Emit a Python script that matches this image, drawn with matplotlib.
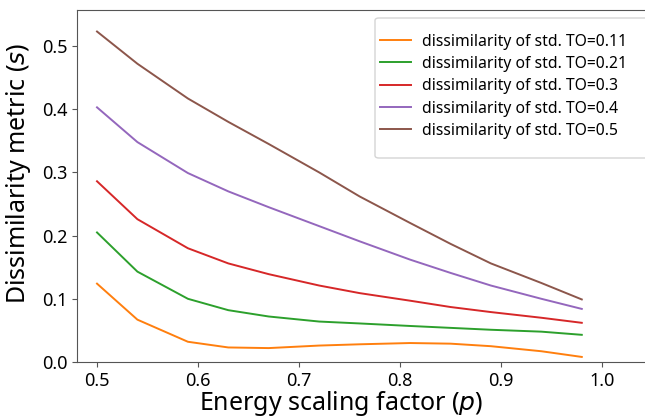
import matplotlib.pyplot as plt
from matplotlib.patches import FancyBboxPatch
import numpy as np

plt.rcParams['font.family'] = ['Noto Sans', 'DejaVu Sans']

# energy scaling factor samples
p = [0.5, 0.54, 0.59, 0.63, 0.67, 0.72, 0.76, 0.81, 0.85, 0.89, 0.94, 0.98]

# dissimilarity for each std. TO
d011 = [0.124, 0.067, 0.032, 0.023, 0.022, 0.026, 0.028, 0.030, 0.029, 0.025, 0.017, 0.008]
d021 = [0.205, 0.143, 0.100, 0.082, 0.072, 0.064, 0.061, 0.057, 0.054, 0.051, 0.048, 0.043]
d03 = [0.286, 0.226, 0.180, 0.156, 0.139, 0.121, 0.109, 0.097, 0.087, 0.079, 0.070, 0.062]
d04 = [0.403, 0.348, 0.299, 0.270, 0.245, 0.215, 0.191, 0.162, 0.141, 0.121, 0.100, 0.084]
d05 = [0.523, 0.472, 0.417, 0.380, 0.345, 0.300, 0.262, 0.220, 0.187, 0.156, 0.125, 0.099]

labels = ['dissimilarity of std. TO=0.11', 'dissimilarity of std. TO=0.21',
          'dissimilarity of std. TO=0.3', 'dissimilarity of std. TO=0.4',
          'dissimilarity of std. TO=0.5']
colors = ['tab:orange', 'tab:green', 'tab:red', 'tab:purple', 'tab:brown']

W, H = 645, 418
fig = plt.figure(figsize=(6.45, 4.18), dpi=100)
ax = fig.add_axes([0.1194, 0.134, 0.8806, 0.842])

for d, lab, c in zip([d011, d021, d03, d04, d05], labels, colors):
    ax.plot(p, d, color=c, lw=1.4, label=lab)

ax.set_xlim(0.4802, 1.0426)
ax.set_ylim(0, 0.557)
ax.set_xticks([0.5, 0.6, 0.7, 0.8, 0.9, 1.0])
ax.set_yticks([0.0, 0.1, 0.2, 0.3, 0.4, 0.5])
ax.spines['right'].set_visible(False)
for s in ['left', 'bottom', 'top']:
    ax.spines[s].set_color('#555555')
ax.tick_params(labelsize=13, color='#555555')

ax.set_xlabel('Energy scaling factor ($p$)', fontsize=18)
ax.set_ylabel('Dissimilarity metric ($s$)', fontsize=18)
ax.xaxis.set_label_coords(0.465, -0.076)
ax.yaxis.set_label_coords(-0.078, 0.535)

# legend box, wider vertical padding than the default frame
frame = FancyBboxPatch((375 / W, 1 - 158 / H), 300 / W, 140 / H,
                       boxstyle='round,pad=0,rounding_size=0.006',
                       transform=fig.transFigure, facecolor='white',
                       edgecolor='#d0d0d0', lw=1, alpha=0.9, zorder=4,
                       clip_on=False)
ax.add_patch(frame)

leg = ax.legend(loc='upper left', bbox_to_anchor=(375 / W, 1 - 29 / H),
                bbox_transform=fig.transFigure, fontsize=11.3, borderaxespad=0,
                handlelength=2.0, handletextpad=0.7, labelspacing=0.4,
                borderpad=0.3, frameon=False)
leg.set_zorder(5)

fig.savefig('out.png', dpi=100)
